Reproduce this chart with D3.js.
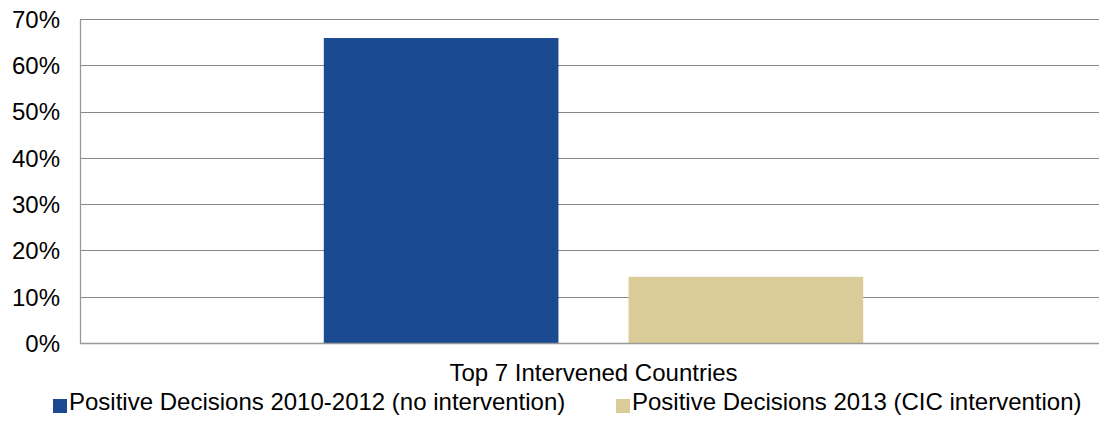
<!DOCTYPE html>
<html>
<head>
<meta charset="utf-8">
<script src="https://cdn.jsdelivr.net/npm/d3@7"></script>
<style>
  body { margin: 0; background: #fff; }
  svg { display: block; font-family: "Liberation Sans", Arial, sans-serif; }
</style>
</head>
<body>
<svg id="chart" width="1099" height="421"></svg>
<script>
// chart data
const categories = ["Top 7 Intervened Countries"];
const seriesNames = [
    "Positive Decisions 2010-2012 (no intervention)",
    "Positive Decisions 2013 (CIC intervention)"
];
const seriesValues = [66.0, 14.4];
const seriesColors = ["#1B4A90", "#D9CC99"];
const yTicks = [0, 10, 20, 30, 40, 50, 60, 70];

const width = 1099, height = 421;
const padding = {top: 19.5, left: 80, right: -8, bottom: 77.5};
const svg = d3.select("#chart");

const plotW = width - padding.left - padding.right;
const plotH = height - padding.top - padding.bottom;

const x0 = d3.scaleBand()
    .domain(categories)
    .range([padding.left, padding.left + plotW]);

const x1 = d3.scaleBand()
    .domain(seriesNames)
    .range([0, x0.bandwidth()])
    .paddingInner(0.23)
    .paddingOuter(0.8);

const y = d3.scaleLinear()
    .domain([0, 70])
    .range([padding.top + plotH, padding.top]);

// snap to pixel centres so the 1px lines stay crisp
const snap = v => Math.round(v - 0.5) + 0.5;

// gridlines
svg.append("g")
    .selectAll("line")
    .data(yTicks.filter(d => d > 0))
    .enter()
    .append("line")
    .attr("x1", padding.left)
    .attr("x2", width)
    .attr("y1", d => snap(y(d)))
    .attr("y2", d => snap(y(d)))
    .style("stroke", "#868686")
    .style("stroke-width", 1.2);

// bars
let data = seriesNames.map((s, i) => ({name: s, value: seriesValues[i], color: seriesColors[i]}));
svg.append("g")
    .selectAll("rect")
    .data(data)
    .enter()
    .append("rect")
    .attr("x", d => x0(categories[0]) + x1(d.name))
    .attr("y", d => y(d.value))
    .attr("width", x1.bandwidth())
    .attr("height", d => y(0) - y(d.value))
    .style("fill", d => d.color);

// axes lines
svg.append("line")
    .attr("x1", snap(padding.left)).attr("x2", snap(padding.left))
    .attr("y1", snap(y(70))).attr("y2", y(0))
    .style("stroke", "#999").style("stroke-width", 1.3);
svg.append("line")
    .attr("x1", padding.left).attr("x2", width)
    .attr("y1", snap(y(0))).attr("y2", snap(y(0)))
    .style("stroke", "#999").style("stroke-width", 1.5);

// y tick labels
svg.append("g")
    .selectAll("text")
    .data(yTicks)
    .enter()
    .append("text")
    .attr("x", padding.left - 20)
    .attr("y", d => y(d))
    .attr("dy", "0.35em")
    .attr("text-anchor", "end")
    .style("font-size", "24px")
    .style("fill", "#000")
    .text(d => d + "%");

// category label
svg.append("text")
    .attr("x", x0(categories[0]) + x1(seriesNames[0]) + (x1(seriesNames[1]) + x1.bandwidth() - x1(seriesNames[0])) / 2)
    .attr("y", 381)
    .attr("text-anchor", "middle")
    .style("font-size", "24px")
    .text(categories[0]);

// legend
const legendX = [53, 616];
const legend = svg.append("g")
    .selectAll("g")
    .data(data)
    .enter()
    .append("g")
    .attr("transform", (d, i) => "translate(" + legendX[i] + ",0)");
legend.append("rect")
    .attr("x", 0).attr("y", 399)
    .attr("width", 14).attr("height", 14)
    .style("fill", d => d.color);
legend.append("text")
    .attr("x", 16).attr("y", 410)
    .style("font-size", "24px")
    .text(d => d.name);
</script>
</body>
</html>
